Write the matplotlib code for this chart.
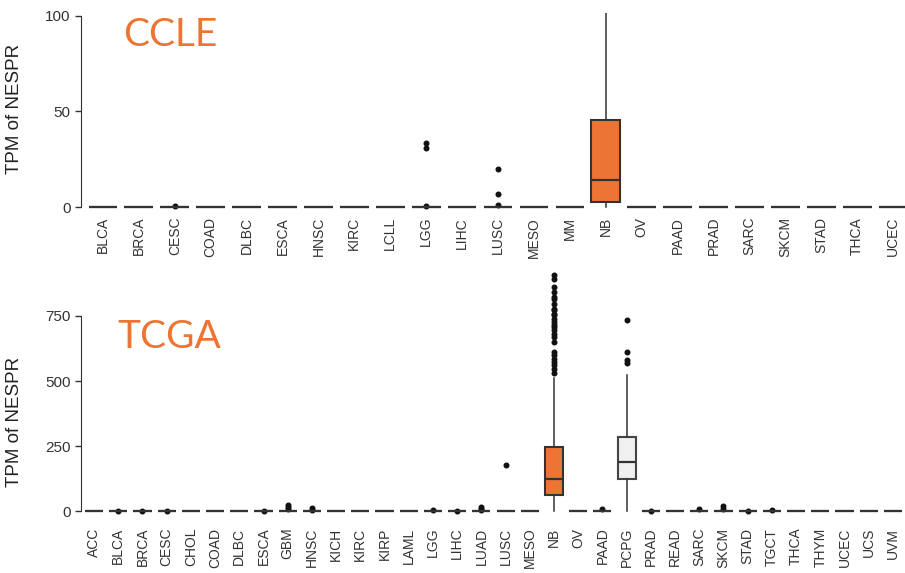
import numpy as np
import matplotlib
matplotlib.use("Agg")
import matplotlib.pyplot as plt

# CCLE (top panel)
ccle_cats = ['BLCA', 'BRCA', 'CESC', 'COAD', 'DLBC', 'ESCA', 'HNSC', 'KIRC', 'LCLL', 'LGG',
             'LIHC', 'LUSC', 'MESO', 'MM', 'NB', 'OV', 'PAAD', 'PRAD', 'SARC', 'SKCM',
             'STAD', 'THCA', 'UCEC']
ccle_q1 = [0]*14 + [2.6] + [0]*8
ccle_med = [0]*14 + [14.4] + [0]*8
ccle_q3 = [0]*14 + [45.4] + [0]*8
ccle_whishi = [0]*14 + [130] + [0]*8
ccle_fliers = {'CESC': [0.5], 'LGG': [0.3, 31, 33.5], 'LUSC': [1, 7, 20]}

# TCGA (bottom panel)
tcga_cats = ['ACC', 'BLCA', 'BRCA', 'CESC', 'CHOL', 'COAD', 'DLBC', 'ESCA', 'GBM', 'HNSC',
             'KICH', 'KIRC', 'KIRP', 'LAML', 'LGG', 'LIHC', 'LUAD', 'LUSC', 'MESO', 'NB',
             'OV', 'PAAD', 'PCPG', 'PRAD', 'READ', 'SARC', 'SKCM', 'STAD', 'TGCT', 'THCA',
             'THYM', 'UCEC', 'UCS', 'UVM']
tcga_q1 = {'NB': 61, 'PCPG': 123}
tcga_med = {'NB': 125, 'PCPG': 190}
tcga_q3 = {'NB': 245, 'PCPG': 286}
tcga_whishi = {'NB': 510, 'PCPG': 525}
tcga_fliers = {
    'BLCA': [3], 'BRCA': [2], 'CESC': [2], 'ESCA': [2], 'GBM': [8, 15, 24],
    'HNSC': [5, 11], 'LGG': [5], 'LIHC': [2], 'LUAD': [5, 10, 15], 'LUSC': [177],
    'NB': [529, 548, 561, 574, 586, 599, 612, 650, 669, 682, 695, 708, 714, 727, 740,
           753, 759, 772, 778, 797, 813, 823, 842, 861, 893, 906],
    'PAAD': [10], 'PCPG': [571, 580, 612, 733], 'PRAD': [3], 'SARC': [8],
    'SKCM': [10, 20], 'STAD': [2], 'TGCT': [5],
}

orange = '#EC7533'
dark = '#333333'


def make_stats(cats, q1, med, q3, whi, fliers):
    stats = []
    for i, c in enumerate(cats):
        stats.append({'q1': q1[i], 'med': med[i], 'q3': q3[i],
                      'whislo': 0, 'whishi': whi[i],
                      'fliers': fliers.get(c, [])})
    return stats


def draw_panel(ax, cats, stats, width, colors):
    bp = ax.bxp(stats, positions=np.arange(len(cats)), widths=width,
                showcaps=False, patch_artist=True,
                boxprops=dict(edgecolor=dark, linewidth=1.5),
                medianprops=dict(color=dark, linewidth=1.6),
                whiskerprops=dict(color=dark, linewidth=1.1),
                flierprops=dict(marker='o', markersize=3.3, markerfacecolor='#111111',
                                markeredgecolor='#111111', linestyle='none'))
    for patch, c in zip(bp['boxes'], cats):
        patch.set_facecolor(colors.get(c, 'white'))
        if c == 'PCPG':
            patch.set_edgecolor('#444444')
    ax.set_xticks(np.arange(len(cats)))
    ax.set_xticklabels(cats, rotation=90, fontsize=10, color='#333333',
                       family='Liberation Sans')
    ax.tick_params(axis='x', length=0)
    ax.tick_params(axis='y', length=4, width=1, color='#333333', labelsize=11,
                   labelcolor='#333333')
    for lab in ax.get_yticklabels():
        lab.set_family('Liberation Sans')
    ax.spines['top'].set_visible(False)
    ax.spines['right'].set_visible(False)
    ax.spines['bottom'].set_visible(False)
    ax.spines['left'].set_color('#333333')
    ax.set_ylabel('TPM of NESPR', fontsize=13.5, color='#222222', family='Liberation Sans')


fig = plt.figure(figsize=(9.05, 5.73), dpi=100)

ax1 = fig.add_axes([81/905, 1-212.8/573, 824/905, 199.8/573])
s1 = make_stats(ccle_cats, ccle_q1, ccle_med, ccle_q3, ccle_whishi, ccle_fliers)
draw_panel(ax1, ccle_cats, s1, 0.8, {'NB': orange})
ax1.set_xlim(-0.61, 22.33)
ax1.set_ylim(-3, 101.5)
ax1.set_yticks([0, 50, 100])
ax1.spines['left'].set_bounds(0, 100)
ax1.tick_params(axis='x', pad=3)
ax1.yaxis.set_label_coords(-0.07, 0.52)

ax2 = fig.add_axes([81/905, 1-515.2/573, 824/905, 246.2/573])
s2 = make_stats(tcga_cats,
                [tcga_q1.get(c, 0) for c in tcga_cats],
                [tcga_med.get(c, 0) for c in tcga_cats],
                [tcga_q3.get(c, 0) for c in tcga_cats],
                [tcga_whishi.get(c, 0) for c in tcga_cats],
                tcga_fliers)
draw_panel(ax2, tcga_cats, s2, 0.75, {'NB': orange, 'PCPG': '#F0F0F0'})
ax2.set_xlim(-0.54, 33.5)
ax2.set_ylim(-15, 930)
ax2.set_yticks([0, 250, 500, 750])
ax2.spines['left'].set_bounds(0, 750)
ax2.tick_params(axis='x', pad=9)
ax2.yaxis.set_label_coords(-0.07, 0.38)

fig.text(123/905, 1-46/573, 'CCLE', fontsize=28, color=orange, family='Lato')
fig.text(117/905, 1-348/573, 'TCGA', fontsize=28, color=orange, family='Lato')

fig.savefig('out.png', dpi=100)
